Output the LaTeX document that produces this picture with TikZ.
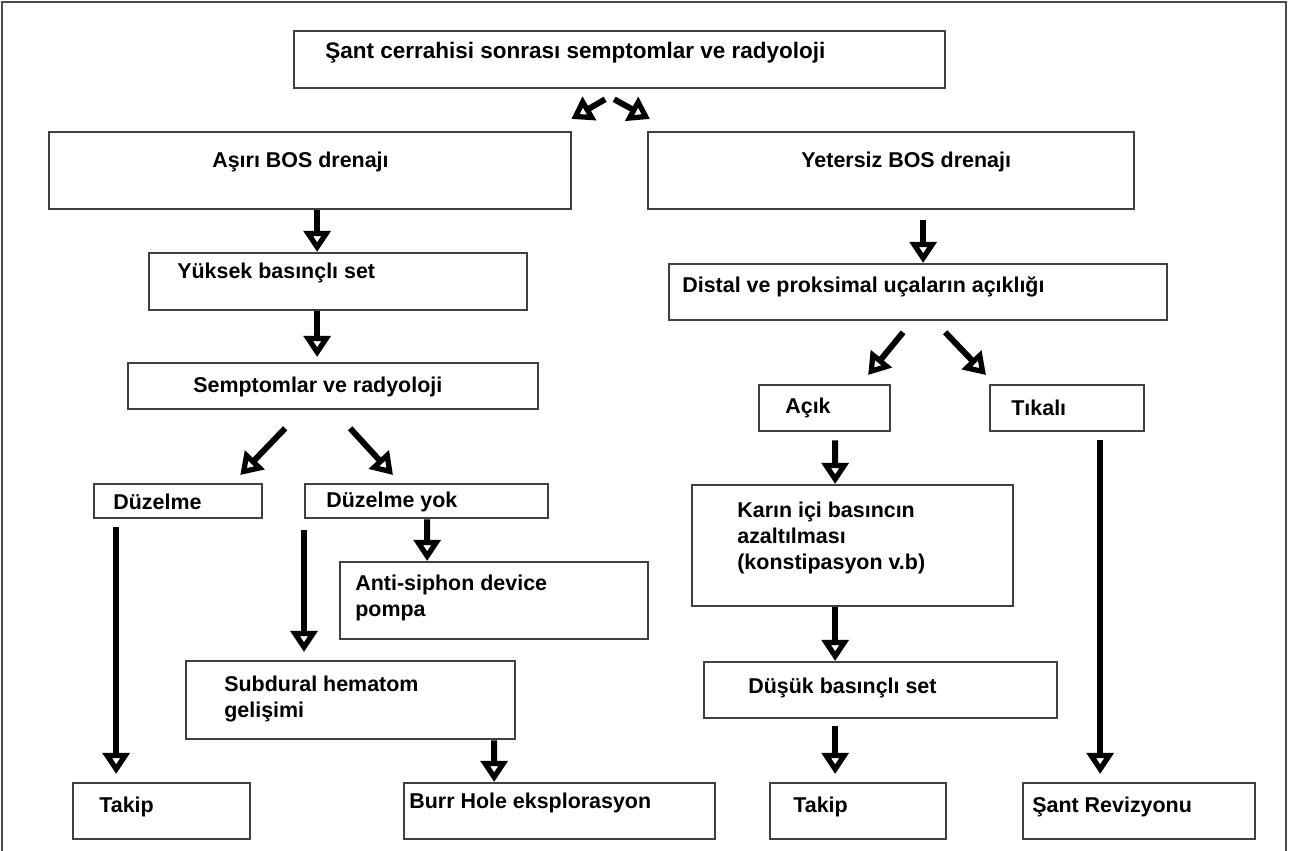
\documentclass[tikz,border=0pt]{standalone}
\usepackage{fontspec}
\setmainfont{Liberation Sans}
\usetikzlibrary{arrows.meta}
\newlength\px
\setlength\px{0.02cm}
\tikzset{
  kutu/.style={draw=black!75, line width=1.3pt, anchor=north west, inner sep=0pt},
  yazi/.style={anchor=west, inner sep=0pt, align=left, font=\bfseries\fontsize{12.2}{15}\selectfont},
  ok/.style={line width=3.4pt, -{Triangle[open, length=12pt, width=15pt]}},
}

\begin{document}
\begin{tikzpicture}[x=\px, y=-\px]
\useasboundingbox (0,0) rectangle (1289,851);
\draw[black!70, line width=1.2pt] (2,851) -- (2,2) -- (1286,2) -- (1286,851);

% kutular
\node[kutu, minimum width=651\px, minimum height=57\px] (sant) at (293,30) {};
\node[kutu, minimum width=522\px, minimum height=77\px] (asiri) at (48,131) {};
\node[kutu, minimum width=486\px, minimum height=77\px] (yetersiz) at (647,131) {};
\node[kutu, minimum width=378\px, minimum height=57\px] (yuksek) at (148,252) {};
\node[kutu, minimum width=498\px, minimum height=56\px] (distal) at (668,263) {};
\node[kutu, minimum width=410\px, minimum height=46\px] (semptom) at (127,362) {};
\node[kutu, minimum width=131\px, minimum height=46\px] (acik) at (758,384) {};
\node[kutu, minimum width=154\px, minimum height=46\px] (tikali) at (989,384) {};
\node[kutu, minimum width=168\px, minimum height=34\px] (duzelme) at (93,483) {};
\node[kutu, minimum width=243\px, minimum height=34\px] (duzyok) at (304,483) {};
\node[kutu, minimum width=308\px, minimum height=77\px] (anti) at (339,561) {};
\node[kutu, minimum width=321\px, minimum height=121\px] (karin) at (691,484) {};
\node[kutu, minimum width=329\px, minimum height=78\px] (subdural) at (185,660) {};
\node[kutu, minimum width=353\px, minimum height=56\px] (dusuk) at (703,661) {};
\node[kutu, minimum width=177\px, minimum height=56\px] (takipa) at (72,782) {};
\node[kutu, minimum width=311\px, minimum height=56\px] (burr) at (403,782) {};
\node[kutu, minimum width=176\px, minimum height=56\px] (takipb) at (769,782) {};
\node[kutu, minimum width=232\px, minimum height=56\px] (santrev) at (1022,782) {};

% yazilar
\node[yazi, font=\bfseries\fontsize{12.8}{15}\selectfont] (sant-y) at (325,53) {Şant cerrahisi sonrası semptomlar ve radyoloji};
\node[yazi] (asiri-y) at (212,162) {Aşırı BOS drenajı};
\node[yazi] (yetersiz-y) at (801,162) {Yetersiz BOS drenajı};
\node[yazi] (yuksek-y) at (177,273) {Yüksek basınçlı set};
\node[yazi] (distal-y) at (682,287) {Distal ve proksimal uçaların açıklığı};
\node[yazi] (semptom-y) at (193,387) {Semptomlar ve radyoloji};
\node[yazi] (acik-y) at (785,408) {Açık};
\node[yazi] (tikali-y) at (1011,408) {Tıkalı};
\node[yazi] (duzelme-y) at (113,502) {Düzelme};
\node[yazi] (duzyok-y) at (326,502) {Düzelme yok};
\node[yazi] (anti-y) at (355,598) {Anti-siphon device\\pompa};
\node[yazi] (karin-y) at (737,538) {Karın içi basıncın\\azaltılması\\(konstipasyon v.b)};
\node[yazi] (subdural-y) at (224,699) {Subdural hematom\\gelişimi};
\node[yazi] (dusuk-y) at (748,688) {Düşük basınçlı set};
\node[yazi] (takipa-y) at (99,807) {Takip};
\node[yazi] (burr-y) at (409,803) {Burr Hole eksplorasyon};
\node[yazi] (takipb-y) at (793,807) {Takip};
\node[yazi] (santrev-y) at (1032,807) {Şant Revizyonu};

% oklar
\draw[ok] ([xshift=-14.5\px, yshift=-10\px]sant.south) -- ([xshift=-1\px, yshift=12\px]asiri.north east);
\draw[ok] ([xshift=-5.5\px, yshift=-10\px]sant.south) -- ([xshift=3\px, yshift=12\px]yetersiz.north west);
\draw[ok] ([xshift=7\px]asiri.south) -- ([xshift=-21\px]yuksek.north);
\draw[ok] ([xshift=-21\px]yuksek.south) -- ([xshift=-16\px, yshift=5\px]semptom.north);
\draw[ok] ([xshift=32\px, yshift=-10\px]yetersiz.south) -- ([xshift=5\px]distal.north);
\draw[ok] ([xshift=-15\px, yshift=-11\px]distal.south) -- ([xshift=43.5\px, yshift=9\px]acik.north);
\draw[ok] ([xshift=27\px, yshift=-11\px]distal.south) -- ([xshift=-3\px, yshift=9\px]tikali.north west);
\draw[ok] ([xshift=-48\px, yshift=-18\px]semptom.south) -- ([xshift=-23\px, yshift=8\px]duzelme.north east);
\draw[ok] ([xshift=17\px, yshift=-18\px]semptom.south) -- ([xshift=89\px, yshift=8\px]duzyok.north west);
\draw[ok] ([xshift=10.5\px, yshift=-8\px]acik.south) -- ([xshift=-17.5\px]karin.north);
\draw[ok] ([xshift=33\px, yshift=-8\px]tikali.south) -- ([xshift=-39\px, yshift=8\px]santrev.north);
\draw[ok] ([xshift=-62\px, yshift=-8\px]duzelme.south) -- ([xshift=-45.5\px, yshift=8\px]takipa.north);
\draw[ok] ([xshift=0.5\px]duzyok.south) -- ([xshift=-67\px]anti.north);
\draw[ok] ([yshift=-11\px]duzyok.south west) -- ([xshift=119\px, yshift=8\px]subdural.north west);
\draw[ok] ([xshift=143.5\px]subdural.south) -- ([xshift=-65.5\px]burr.north);
\draw[ok] ([xshift=-17.5\px]karin.south) -- ([xshift=-45.5\px]dusuk.north);
\draw[ok] ([xshift=-45.5\px, yshift=-7\px]dusuk.south) -- ([xshift=-23\px, yshift=8\px]takipb.north);
\end{tikzpicture}
\end{document}
